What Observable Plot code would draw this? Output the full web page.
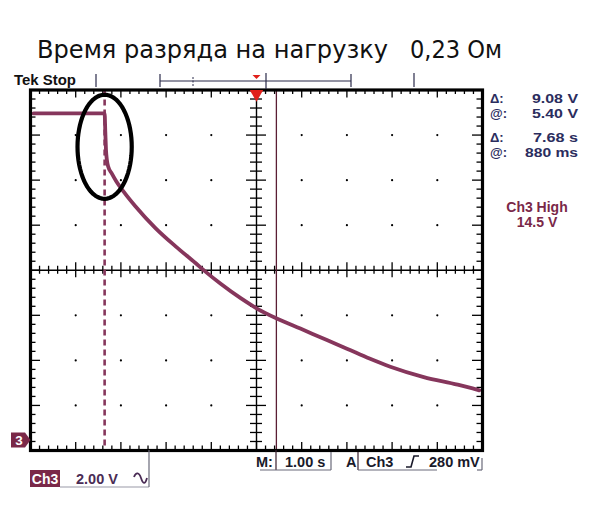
<!DOCTYPE html>
<html><head><meta charset="utf-8">
<script src="https://cdn.jsdelivr.net/npm/d3@7"></script>
<script src="https://cdn.jsdelivr.net/npm/@observablehq/plot@0.6"></script>
<style>body{margin:0;background:#fff;}</style>
</head><body><div id="chart"></div>
<script>
// ---- data ----
const titleMain = "Время разряда на нагрузку";
const titleValue = "0,23 Ом";
const time  = [-4.93, -3.36, -3.345, -3.33, -3.31, -3.28, -3.2, -3.1, -2.94, -2.68, -2.23, -1.79, -1.35, -1.13, -0.80, -0.35, 0.02, 0.46, 0.97, 1.57, 2.0, 2.5, 2.96, 3.70, 4.45, 4.93];
const volts = [14.52, 14.52, 13.7, 12.9, 12.45, 12.15, 11.85, 11.5, 11.05, 10.4, 9.42, 8.62, 7.88, 7.5, 6.97, 6.32, 5.85, 5.41, 4.97, 4.45, 4.08, 3.64, 3.28, 2.82, 2.48, 2.23];
const cursorDashedTime = -3.36;
const cursorSolidTime = 0.44;
const markCenter = {t: -3.36, v: 13.04, rt: 0.6, rv: 2.31};
const readoutLabels = ["Δ:", "@:", "Δ:", "@:"];
const readoutValues = ["9.08 V", "5.40 V", "7.68 s", "880 ms"];
const triggerInfo = ["Ch3 High", "14.5 V"];
const channelLabel = "Ch3";
const channelScale = "2.00 V";
const timebaseLabel = "M:";
const timebaseValue = "1.00 s";
const triggerMode = "A";
const triggerSource = "Ch3";
const triggerLevel = "280 mV";
const statusText = "Tek Stop";
const groundMarker = "3";

// ---- screen geometry ----
const xDomain = [-5, 5];          // seconds (10 div x 1.00 s)
const yDomain = [-0.44, 15.56];   // volts (8 div x 2.00 V), ground at 0
const W = 590, H = 522, mL = 30, mR = 108, mT = 89.5, mB = 72;
const pxT = (xDomain[1] - xDomain[0]) / (W - mL - mR);
const pxV = (yDomain[1] - yDomain[0]) / (H - mT - mB);
const vCenter = (yDomain[0] + yDomain[1]) / 2;

const minorT = d3.range(0, 51).map(k => xDomain[0] + k * 0.2);
const minorV = d3.range(0, 41).map(k => yDomain[0] + k * 0.4);
const isMajor = (i) => i % 5 === 0;
const tTicks = minorT.map((t, i) => ({t, major: isMajor(i)}));
const vTicks = minorV.map((v, i) => ({v, major: isMajor(i)}));
const gridT = [-4, -3, -2, -1, 1, 2, 3, 4];
const gridV = [1, 2, 3, 5, 6, 7].map(k => yDomain[0] + 2 * k);
const gridDots = gridT.flatMap(t => gridV.map(v => ({t, v})));
const trace = time.map((t, i) => ({t, v: volts[i]}));
const ellipse = d3.range(0, 73).map(k => {
  const a = k / 72 * 2 * Math.PI;
  return {t: markCenter.t + markCenter.rt * Math.cos(a), v: markCenter.v + markCenter.rv * Math.sin(a)};
});

const maroon = "#86365c";
const navy = "#2b2d5e";

const plot = Plot.plot({
  width: W, height: H,
  marginLeft: mL, marginRight: mR, marginTop: mT, marginBottom: mB,
  x: {domain: xDomain, axis: null},
  y: {domain: yDomain, axis: null},
  style: {background: "#fff", fontFamily: "'Liberation Sans', Arial, sans-serif", overflow: "visible"},
  marks: [
    Plot.dot(gridDots, {x: "t", y: "v", r: 1.1, fill: "#000", stroke: null}),
    // center cross
    Plot.ruleX([0], {stroke: "#000", strokeWidth: 1.4}),
    Plot.ruleY([vCenter], {stroke: "#000", strokeWidth: 1.4}),
    Plot.ruleX(tTicks, {x: "t", y1: d => vCenter - (d.major ? 7.5 : 4) * pxV, y2: d => vCenter + (d.major ? 7.5 : 4) * pxV, stroke: "#000", strokeWidth: 1.3}),
    Plot.ruleY(vTicks, {y: "v", x1: d => -(d.major ? 10 : 6) * pxT, x2: d => (d.major ? 10 : 6) * pxT, stroke: "#000", strokeWidth: 1.3}),
    // edge ticks
    Plot.ruleX(tTicks, {x: "t", y1: yDomain[1], y2: d => yDomain[1] - (d.major ? 8 : 4.5) * pxV, stroke: "#000", strokeWidth: 1.3}),
    Plot.ruleX(tTicks, {x: "t", y1: yDomain[0], y2: d => yDomain[0] + (d.major ? 8 : 4.5) * pxV, stroke: "#000", strokeWidth: 1.3}),
    Plot.ruleY(vTicks, {y: "v", x1: xDomain[0], x2: d => xDomain[0] + (d.major ? 10 : 5.5) * pxT, stroke: "#000", strokeWidth: 1.3}),
    Plot.ruleY(vTicks, {y: "v", x1: xDomain[1], x2: d => xDomain[1] - (d.major ? 10 : 5.5) * pxT, stroke: "#000", strokeWidth: 1.3}),
    // cursors
    Plot.ruleX([cursorSolidTime], {stroke: "#5a1e34", strokeWidth: 1.3}),
    Plot.ruleX([cursorDashedTime], {stroke: maroon, strokeWidth: 2.6, strokeDasharray: "6,4"}),
    // trace
    Plot.line(trace, {x: "t", y: "v", stroke: maroon, strokeWidth: 3.8, curve: "monotone-x"}),
    // annotation ellipse
    Plot.line(ellipse, {x: "t", y: "v", stroke: "#000", strokeWidth: 4.2, curve: "linear"}),
    Plot.frame({stroke: "#000", strokeWidth: 3.2}),
    // trigger position marker
    Plot.dot([0], {x: d => d, y: yDomain[1], symbol: "triangle", rotate: 180, r: 5, fill: "#e0201a", stroke: null, dy: 4})
  ]
});
document.getElementById("chart").append(plot);

// ---- scope chrome (text + outlines) ----
const svg = d3.select(plot);
const g = svg.append("g").attr("text-anchor", "start");
const bold = "'Liberation Sans', Arial, sans-serif";

// title
g.append("text").attr("x", 37).attr("y", 58).attr("font-family", "'DejaVu Sans Condensed', 'DejaVu Sans', sans-serif")
  .attr("font-size", 24).attr("fill", "#111").attr("textLength", 351).attr("lengthAdjust", "spacingAndGlyphs").text(titleMain);
g.append("text").attr("x", 410).attr("y", 58).attr("font-family", "'DejaVu Sans Condensed', 'DejaVu Sans', sans-serif")
  .attr("font-size", 24).attr("fill", "#111").attr("textLength", 92).attr("lengthAdjust", "spacingAndGlyphs").text(titleValue);

// status bar
g.append("text").attr("x", 14).attr("y", 85).attr("font-family", bold).attr("font-weight", "bold").attr("font-size", 14)
  .attr("fill", "#111").attr("textLength", 62).attr("lengthAdjust", "spacingAndGlyphs").text(statusText);
const line = (x1, y1, x2, y2, c = "#2a2a4a", w = 1.2) => g.append("line").attr("x1", x1).attr("y1", y1).attr("x2", x2).attr("y2", y2).attr("stroke", c).attr("stroke-width", w);
line(96, 74, 96, 87);
line(160, 74, 160, 87);
line(160, 81, 351, 81);
line(193, 77, 193, 86, "#2a2a4a", 1).attr("stroke-dasharray", "2,1.5");
line(266, 73, 266, 89);
line(351, 74, 351, 87);
line(414, 73, 414, 87);
g.append("path").attr("d", "M252.5,75 L260.5,75 L256.5,79 Z").attr("fill", "#e0201a");

// readouts
const valueWidths = [46, 46, 45, 53];
readoutLabels.forEach((lab, i) => {
  const y = [103, 118, 142, 157][i];
  g.append("text").attr("x", 490).attr("y", y).attr("font-family", bold).attr("font-weight", "bold").attr("font-size", 13).attr("fill", navy).text(lab);
  g.append("text").attr("x", 578).attr("y", y).attr("text-anchor", "end").attr("font-family", bold).attr("font-weight", "bold").attr("font-size", 13)
    .attr("textLength", valueWidths[i]).attr("lengthAdjust", "spacingAndGlyphs").attr("fill", navy).text(readoutValues[i]);
});
triggerInfo.forEach((s, i) => {
  g.append("text").attr("x", 537).attr("y", [212, 227][i]).attr("text-anchor", "middle").attr("font-family", bold)
    .attr("font-weight", "bold").attr("font-size", 14).attr("fill", "#7a2848").text(s);
});

// ground marker
g.append("path").attr("d", "M11,432.5 L25,432.5 L30.5,440 L25,447.5 L11,447.5 Z").attr("fill", "#7a2848");
g.append("text").attr("x", 19).attr("y", 445).attr("text-anchor", "middle").attr("font-family", bold).attr("font-weight", "bold")
  .attr("font-size", 13.5).attr("fill", "#fff").text(groundMarker);

// channel box
g.append("rect").attr("x", 30).attr("y", 470).attr("width", 30).attr("height", 17).attr("fill", "#7a2848");
g.append("text").attr("x", 45).attr("y", 483.5).attr("text-anchor", "middle").attr("font-family", bold).attr("font-weight", "bold")
  .attr("font-size", 14).attr("fill", "#fff").text(channelLabel);
line(60, 487, 149, 487, "#9a9aa8", 1.2);
line(149, 450, 149, 487, "#6a6a7a", 1.2);
g.append("text").attr("x", 76).attr("y", 483.5).attr("font-family", bold).attr("font-weight", "bold").attr("font-size", 14.5).attr("fill", "#4a2c55").text(channelScale);
g.append("path").attr("d", "M134,477 C136,472 139,472 141,478 S145,485 147,478").attr("fill", "none").attr("stroke", "#4a2c55").attr("stroke-width", 1.8);

// timebase / trigger row
const bt = (x, s, anchor = "start") => g.append("text").attr("x", x).attr("y", 466.5).attr("text-anchor", anchor).attr("font-family", bold)
  .attr("font-weight", "bold").attr("font-size", 14.5).attr("fill", "#1a1a2a").text(s);
bt(256, timebaseLabel);
bt(285, timebaseValue);
line(276, 450, 276, 470, "#3a2030", 1.2);
line(260, 470, 331, 470, "#6a6a7a", 1.2);
line(331, 452, 331, 470, "#6a6a7a", 1.2);
bt(346, triggerMode);
line(358, 452, 358, 470, "#3a2030", 1.2);
line(358, 470, 437, 470, "#6a6a7a", 1.2);
bt(366, triggerSource);
g.append("path").attr("d", "M406,467 L411,467 L414,456 L419,456").attr("fill", "none").attr("stroke", "#1a1a2a").attr("stroke-width", 1.6);
bt(429, triggerLevel);
line(482, 458, 482, 470, "#6a6a7a", 1.2);
line(477, 470, 482, 470, "#6a6a7a", 1.2);
</script>
</body></html>
